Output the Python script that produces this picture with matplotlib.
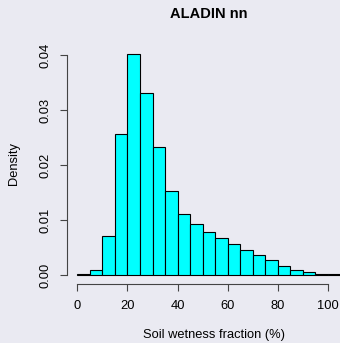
import numpy as np
import matplotlib
matplotlib.use("Agg")
import matplotlib.pyplot as plt

# histogram of soil wetness fraction, 5 % bins, density scale
bin_left = [0, 5, 10, 15, 20, 25, 30, 35, 40, 45, 50, 55, 60, 65, 70, 75, 80, 85, 90, 95, 100]
density = [0.00024, 0.00085, 0.00715, 0.0257, 0.0402, 0.0330, 0.0233, 0.0153, 0.01115, 0.0092,
           0.0079, 0.00667, 0.00557, 0.0046, 0.00358, 0.00279, 0.00158, 0.00097, 0.00048, 0.00024, 0.0001]
x_ticks = [0, 20, 40, 60, 80, 100]
y_ticks = [0.00, 0.01, 0.02, 0.03, 0.04]

plt.rcParams['font.family'] = ['Liberation Sans', 'DejaVu Sans']
bg = '#EAEAF2'
W, H = 340, 343
fs = 9.3

fig = plt.figure(figsize=(W / 100, H / 100), dpi=100, facecolor=bg)
# plot region in pixels (R style, 4% expanded ranges)
left, right, top, bottom = 66.8, 351.0, 45.1, 283.8
ax = fig.add_axes([left / W, 1 - bottom / H, (right - left) / W, (bottom - top) / H])
ax.set_facecolor(bg)

ax.bar(bin_left, density, width=5, align='edge', color='#00FFFF', edgecolor='black', linewidth=0.8)

ax.set_xlim(-4.2, 109.2)
ax.set_ylim(-0.0016, 0.0418)

for s in ['top', 'right']:
    ax.spines[s].set_visible(False)
ax.spines['bottom'].set_bounds(0, 100)
ax.spines['left'].set_bounds(0, 0.04)
for s in ['bottom', 'left']:
    ax.spines[s].set_color('#444444')
    ax.spines[s].set_linewidth(0.8)

ax.set_xticks(x_ticks)
ax.set_xticklabels([str(t) for t in x_ticks])
ax.set_yticks(y_ticks)
ax.set_yticklabels(['%.2f' % t for t in y_ticks])
ax.tick_params(axis='both', direction='out', length=5, width=0.8, color='#444444',
               labelsize=fs, labelcolor='black')
ax.tick_params(axis='x', pad=7)
ax.tick_params(axis='y', pad=6)
plt.setp(ax.get_yticklabels(), rotation=90, va='center')

fig.text(208.7 / W, 1 - 13.5 / H, 'ALADIN nn', ha='center', va='center', fontsize=10.5, fontweight='bold')
fig.text(214 / W, 1 - 335 / H, 'Soil wetness fraction (%)', ha='center', va='center', fontsize=fs)
fig.text(14 / W, 1 - 164 / H, 'Density', ha='center', va='center', rotation=90, fontsize=fs)

fig.savefig('out.png', dpi=100, facecolor=bg)
